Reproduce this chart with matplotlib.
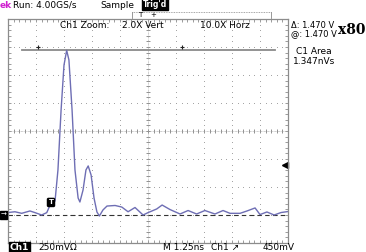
import numpy as np
import matplotlib
matplotlib.use('Agg')
import matplotlib.pyplot as plt

# ==================== Data ====================
# time in ns (0.125 ns/div, 10 div), voltage in V relative to ground (250 mV/div)
t_ns = [0.000, 0.031, 0.061, 0.098, 0.121, 0.150, 0.173, 0.188, 0.210, 0.223,
        0.237, 0.250, 0.262, 0.272, 0.286, 0.299, 0.313, 0.321, 0.335, 0.348,
        0.358, 0.371, 0.384, 0.397, 0.408, 0.424, 0.442, 0.478, 0.508, 0.536,
        0.567, 0.603, 0.626, 0.664, 0.688, 0.723, 0.768, 0.804, 0.842, 0.879,
        0.924, 0.960, 0.991, 1.036, 1.067, 1.103, 1.125, 1.156, 1.188, 1.219,
        1.250]
volts = [0.022, 0.029, 0.015, 0.036, 0.021, 0.000, 0.021, 0.089, 0.125, 0.402,
         0.938, 1.339, 1.470, 1.384, 0.938, 0.402, 0.152, 0.116, 0.223, 0.402,
         0.438, 0.357, 0.152, 0.027, -0.009, 0.045, 0.080, 0.085, 0.071, 0.029,
         0.067, 0.000, 0.022, 0.054, 0.089, 0.049, 0.009, 0.040, 0.009, 0.040,
         0.009, 0.040, 0.015, 0.015, 0.036, 0.063, 0.004, 0.027, 0.000, 0.022,
         0.031]

cursor_level = 1.470      # V
cursor_span = (0.0625, 1.192)
trig_level = 0.45         # V
trig_point = (0.192, 0.112)

header_run = "Run: 4.00GS/s"
zoom_txt = ["Ch1 Zoom:", "2.0X Vert", "10.0X Horz"]
readout = ["\u0394: 1.470 V", "@: 1.470 V"]
area_txt = ["C1 Area", "1.347nVs"]

# ==================== Figure ====================
W, H = 366, 252
fig = plt.figure(figsize=(W / 100, H / 100), dpi=100)
fig.patch.set_facecolor('white')
ax = fig.add_axes([8 / W, 1 - 243 / H, 280 / W, 224 / H])
ax.set_xlim(0, 1.25)
ax.set_ylim(-0.25, 1.75)

grid_c = '#a0a0a0'
dx, dy = 0.125, 0.25

# graticule dots
for i in range(1, 10):
    x = i * dx
    ys = np.arange(-0.25, 1.75001, dy / 5)
    ax.plot([x] * len(ys), ys, ls='none', marker='s', ms=0.7, color=grid_c, mec='none')
for j in range(1, 8):
    y = -0.25 + j * dy
    xs = np.arange(0, 1.25001, dx / 5)
    ax.plot(xs, [y] * len(xs), ls='none', marker='s', ms=0.7, color=grid_c, mec='none')

# centre cross with tick marks
xs = np.arange(0, 1.25001, dx / 5)
ax.plot(xs, [0.75] * len(xs), ls='none', marker='|', ms=3, mew=0.7, color='#909090')
ax.plot([0, 1.25], [0.75, 0.75], color=grid_c, lw=0.5, ls=(0, (1, 1)))
ys = np.arange(-0.25, 1.75001, dy / 5)
ax.plot([0.625] * len(ys), ys, ls='none', marker='_', ms=3, mew=0.7, color='#909090')
ax.plot([0.625, 0.625], [-0.25, 1.75], color=grid_c, lw=0.5, ls=(0, (1, 1)))

# frame with ticks
for s in ax.spines.values():
    s.set_color('#8c8c8c')
    s.set_linewidth(0.9)
ax.set_xticks(np.arange(0, 1.25001, dx / 5))
ax.set_yticks(np.arange(-0.25, 1.75001, dy / 5))
ax.tick_params(direction='in', length=2, width=0.6, color='#8c8c8c',
               top=True, right=True, labelbottom=False, labelleft=False)

# cursors
ax.plot(cursor_span, [cursor_level, cursor_level], color='#8a8a8a', lw=1.3)
ax.axhline(0, color='#333333', lw=0.8, dashes=(4, 3))
ax.plot([0.134, 0.777], [1.50, 1.50], ls='none', marker='+', ms=3, mew=0.8, color='#222222')

# trace
ax.plot(t_ns, volts, color='#6e6eb4', lw=1.0)

# markers
ax.text(trig_point[0], trig_point[1], 'T', fontsize=5, color='white', fontweight='bold',
        ha='center', va='center',
        bbox=dict(boxstyle='round,pad=0.15', fc='black', ec='black'))
ax.plot([1.238], [trig_level], marker='<', ms=4, color='black', clip_on=False)

# left ground marker
fig.text(0.5 / W, 1 - 215 / H, '\u2192', fontsize=5, color='white', ha='left', va='center',
         bbox=dict(boxstyle='square,pad=0.1', fc='black', ec='black'))

# ==================== Texts ====================
fs = 6.5
fig.text(0 / W, 1 - 5 / H, 'ek', fontsize=fs, color='#d020d0', fontweight='bold', va='center')
fig.text(13 / W, 1 - 5 / H, header_run, fontsize=fs, va='center')
fig.text(100 / W, 1 - 5 / H, 'Sample', fontsize=fs, va='center')
fig.text(143 / W, 1 - 4.5 / H, "Trig'd", fontsize=5.5, color='white', fontweight='bold',
         va='center', bbox=dict(boxstyle='square,pad=0.1', fc='black', ec='black'))

# trigger position bar
fig.add_artist(plt.Line2D([132 / W, 271 / W], [1 - 12 / H, 1 - 12 / H], color='#888888',
                          lw=0.6, ls=(0, (1, 1))))
fig.add_artist(plt.Line2D([271 / W, 271 / W], [1 - 12 / H, 1 - 18 / H], color='#888888', lw=0.6))
fig.add_artist(plt.Line2D([132 / W, 132 / W], [1 - 12 / H, 1 - 18 / H], color='#888888', lw=0.6))
fig.text(140 / W, 1 - 15 / H, 'T', fontsize=5, ha='center', va='center')
fig.text(153 / W, 1 - 15 / H, '+', fontsize=5, ha='center', va='center')

fig.text(60 / W, 1 - 25 / H, zoom_txt[0], fontsize=fs, va='center')
fig.text(122 / W, 1 - 25 / H, zoom_txt[1], fontsize=fs, va='center')
fig.text(200 / W, 1 - 25 / H, zoom_txt[2], fontsize=fs, va='center')

fig.text(291 / W, 1 - 26 / H, readout[0], fontsize=6, va='center')
fig.text(291 / W, 1 - 34 / H, readout[1], fontsize=6, va='center')
fig.text(366 / W, 1 - 30 / H, 'x80', fontsize=10, fontweight='bold', family='DejaVu Serif',
         ha='right', va='center')
fig.text(314 / W, 1 - 52 / H, area_txt[0], fontsize=fs, ha='center', va='center')
fig.text(314 / W, 1 - 62 / H, area_txt[1], fontsize=fs, ha='center', va='center')

# bottom readout
fig.text(10 / W, 1 - 247 / H, 'Ch1', fontsize=fs, color='white', fontweight='bold', va='center',
         bbox=dict(boxstyle='square,pad=0.1', fc='black', ec='black'))
fig.text(38 / W, 1 - 247 / H, '250mV\u03a9', fontsize=fs, va='center')
fig.text(163 / W, 1 - 247 / H, 'M 1.25ns', fontsize=fs, va='center')
fig.text(211 / W, 1 - 247 / H, 'Ch1 \u2197', fontsize=fs, va='center')
fig.text(263 / W, 1 - 247 / H, '450mV', fontsize=fs, va='center')

fig.savefig('out.png', dpi=100, facecolor='white')
